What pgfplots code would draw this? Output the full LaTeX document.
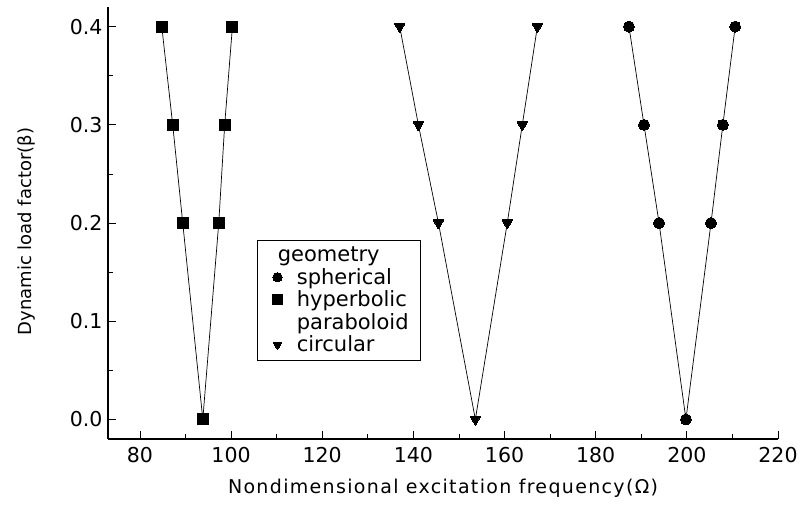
\documentclass[border=0pt]{standalone}
\usepackage{fontspec}
\setmainfont{DejaVu Sans}
\newfontfamily\widefont[LetterSpace=7]{DejaVu Sans}
\usepackage{pgfplots}
\usepackage{pgfplotstable}
\pgfplotsset{compat=1.18}

% omega, beta
\pgfplotstableread{
x y
187.3 0.4
190.6 0.3
193.9 0.2
199.8 0.0
205.3 0.2
207.9 0.3
210.6 0.4
}\spherical
\pgfplotstableread{
x y
84.8 0.4
87.2 0.3
89.4 0.2
93.8 0.0
97.3 0.2
98.6 0.3
100.3 0.4
}\hyperbolic
\pgfplotstableread{
x y
137.0 0.4
141.1 0.3
145.5 0.2
153.6 0.0
160.6 0.2
163.9 0.3
167.2 0.4
}\circular

\newcommand\legfont{\fontsize{21}{20}\selectfont}
\newcommand\rowstrut{\rule[-5pt]{0pt}{15pt}}

\begin{document}
\begin{tikzpicture}
\begin{axis}[
  scale only axis,
  width=670pt, height=432pt,
  xmin=73, xmax=220, ymin=-0.02, ymax=0.42,
  axis x line*=bottom, axis y line*=left,
  axis line style={line width=1.3pt},
  xtick={80,100,120,140,160,180,200,220},
  ytick={0,0.1,0.2,0.3,0.4},
  minor x tick num=1, minor y tick num=1,
  tick align=inside,
  major tick length=8pt, minor tick length=5pt,
  every tick/.style={black, line width=0.8pt},
  /pgf/number format/assume math mode=true,
  ticklabel style={font=\fontsize{20.5}{22}\selectfont},
  xticklabel style={yshift=-5pt},
  yticklabel style={xshift=-2pt, /pgf/number format/fixed, /pgf/number format/fixed zerofill, /pgf/number format/precision=1},
  xlabel={\widefont Nondimensional excitation frequency(Ω)},
  ylabel={Dynamic load factor(β)},
  xlabel style={font=\fontsize{19}{20}\selectfont, at={(axis description cs:0.5,-0.115)}, anchor=center},
  ylabel style={font=\fontsize{18}{20}\selectfont, at={(axis description cs:-0.122,0.48)}, anchor=center},
  clip=false,
  legend style={at={(axis description cs:0.222,0.461)}, anchor=north west,
    draw=black, line width=0.8pt, font=\legfont,
    nodes={inner sep=0pt},
    row sep=5pt, column sep=13pt, inner xsep=12pt, inner ysep=7pt},
  legend cell align=left,
  legend image code/.code={%
    \path (0pt,0pt) (14pt,0pt);
    \path[#1, draw=none, every mark/.append style={scale=0.85}] plot[only marks] coordinates {(8pt,0pt)};},
  every axis plot/.append style={black, line width=0.7pt},
]
\addlegendimage{empty legend}
\addlegendentry{\legfont\hspace*{-19pt}geometry\rule[-8pt]{0pt}{16pt}}
\addplot[mark=*, mark size=5.5pt, mark options={solid, line width=0pt}] table {\spherical};
\addlegendentry{\legfont spherical\rowstrut}
\addplot[mark=square*, mark size=5.5pt, mark options={solid, line width=0pt}] table {\hyperbolic};
\addlegendentry{\legfont hyperbolic\rowstrut}
\addlegendimage{empty legend}
\addlegendentry{\legfont paraboloid\rowstrut}
\addplot[mark=triangle*, mark size=6pt, mark options={solid, rotate=180, line width=0pt}] table {\circular};
\addlegendentry{\legfont circular\rowstrut}
\end{axis}
\path (current axis.south west) +(-108pt,-71pt) (current axis.north east) +(27pt,7pt);
\end{tikzpicture}
\end{document}
